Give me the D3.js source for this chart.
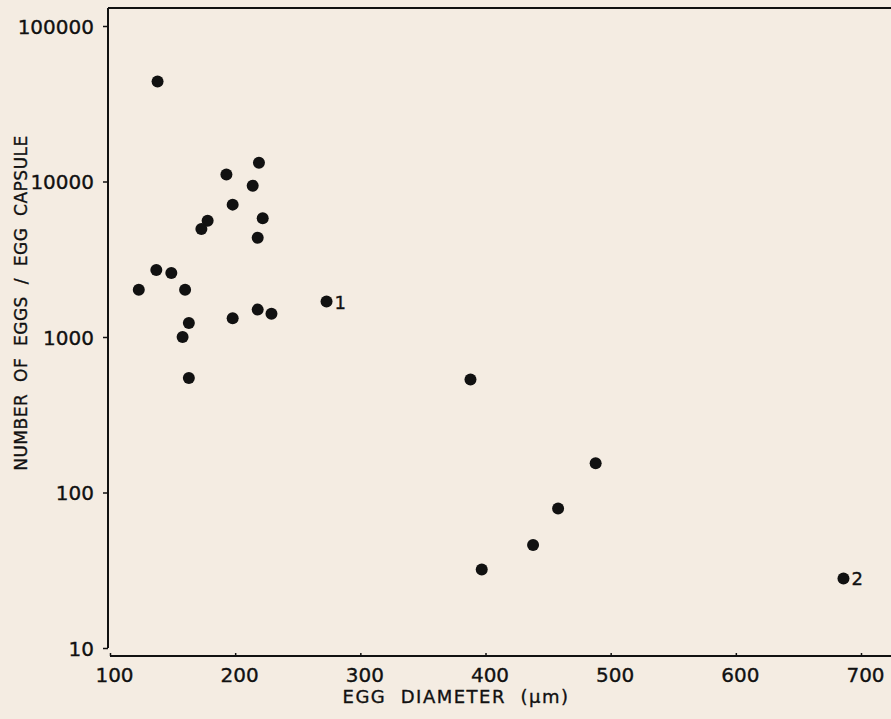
<!DOCTYPE html>
<html>
<head>
<meta charset="utf-8">
<script src="https://cdn.jsdelivr.net/npm/d3@7"></script>
<style>
  body { margin: 0; background: #f4ece2; }
  text { font-family: "DejaVu Sans", sans-serif; fill: #111; stroke: #111; stroke-width: 0.35px; }
</style>
</head>
<body>
<div id="plot"></div>
<script>
// egg diameter (um) and number of eggs per capsule
const diameter = [138, 219, 193, 214, 198, 222, 178, 173, 218, 137, 149, 123, 160, 273,
                  218, 229, 198, 163, 158, 163, 388, 488, 458, 438, 397, 686];
const eggs = [44000, 13200, 11100, 9400, 7100, 5800, 5600, 4950, 4350, 2700, 2580, 2010, 2010, 1690,
              1500, 1410, 1320, 1230, 1000, 545, 533, 154, 79, 46, 32, 28];
const pointLabels = ["", "", "", "", "", "", "", "", "", "", "", "", "", "1",
                     "", "", "", "", "", "", "", "", "", "", "", "2"];
const xTicks = [100, 200, 300, 400, 500, 600, 700];
const yTicks = [10, 100, 1000, 10000, 100000];

const w = 891, h = 719;
const margin = {left: 108, top: 8, right: 0, bottom: 63};

const data = diameter.map((d, i) => ({x: d, y: eggs[i], label: pointLabels[i]}));

const xScale = d3.scaleLinear().domain([100, 700]).range([110, 861]);
const yScale = d3.scaleLog().domain([10, 100000]).range([648, 26]);

const xAxis = d3.axisBottom(xScale)
  .tickValues(xTicks)
  .tickSize(-3)
  .tickPadding(12)
  .tickFormat(d3.format("d"));

const yAxis = d3.axisLeft(yScale)
  .tickValues(yTicks)
  .tickSize(5)
  .tickPadding(9)
  .tickFormat(d3.format("d"));

const svg = d3.select("div#plot")
  .append("svg")
  .attr("width", w)
  .attr("height", h);

// frame line along the top
svg.append("line")
  .attr("x1", margin.left).attr("x2", w)
  .attr("y1", margin.top).attr("y2", margin.top)
  .attr("stroke", "#111").attr("stroke-width", 2);

// x-axis
svg.append("g")
  .attr("id", "xaxis")
  .attr("transform", "translate(0, 656)")
  .call(xAxis)
  .call(g => g.select(".domain").attr("d", `M110,0H${w}`).attr("stroke-width", 2).attr("stroke", "#111"))
  .call(g => g.selectAll(".tick line").attr("stroke", "#111").attr("stroke-width", 1.5))
  .call(g => g.selectAll(".tick text")
    .attr("dx", 4)
    .style("font-size", "20px")
    .style("fill", "#111"));

// y-axis
svg.append("g")
  .attr("id", "yaxis")
  .attr("transform", `translate(${margin.left}, 0)`)
  .call(yAxis)
  .call(g => g.select(".domain").attr("d", `M0,${margin.top}V648`).attr("stroke-width", 2).attr("stroke", "#111"))
  .call(g => g.selectAll(".tick line").attr("stroke", "#111").attr("stroke-width", 1.5))
  .call(g => g.selectAll(".tick text")
    .attr("dy", "0.36em")
    .style("font-size", "20px")
    .style("fill", "#111"));

// x-axis label
svg.append("text")
  .attr("id", "xlab")
  .attr("x", 456)
  .attr("y", 703)
  .attr("text-anchor", "middle")
  .style("font-size", "18px")
  .style("letter-spacing", "1.5px")
  .style("white-space", "pre")
  .text("EGG  DIAMETER  (\u00b5m)");

// y-axis label
svg.append("text")
  .attr("id", "ylab")
  .attr("text-anchor", "middle")
  .attr("transform", "translate(27, 303) rotate(-90)")
  .style("font-size", "17px")
  .style("letter-spacing", "0.5px")
  .style("white-space", "pre")
  .text("NUMBER  OF  EGGS  /  EGG  CAPSULE");

// points
svg.append("g")
  .attr("id", "points")
  .selectAll("circle")
  .data(data)
  .enter()
  .append("circle")
  .attr("cx", d => xScale(d.x))
  .attr("cy", d => yScale(d.y))
  .attr("r", 6)
  .style("fill", "#111");

// point numbers
svg.append("g")
  .attr("id", "plabels")
  .selectAll("text")
  .data(data.filter(d => d.label != ""))
  .enter()
  .append("text")
  .attr("x", d => xScale(d.x) + 8)
  .attr("y", d => yScale(d.y) + 7)
  .style("font-size", "18px")
  .text(d => d.label);
</script>
</body>
</html>
